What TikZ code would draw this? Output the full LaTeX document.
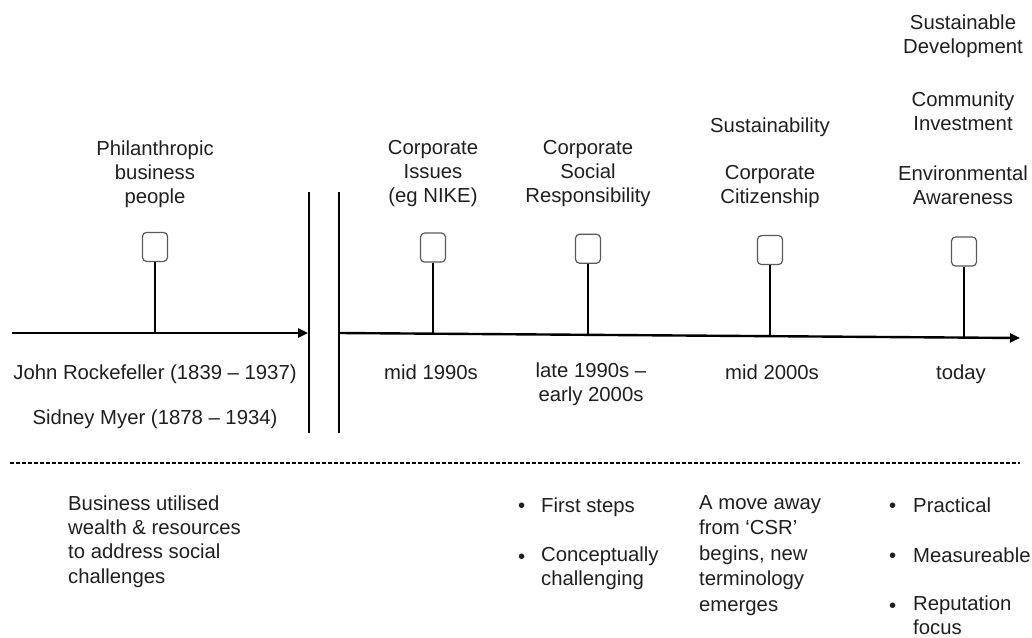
\documentclass[tikz,border=0pt]{standalone}
\usepackage{fontspec}
\setmainfont{Liberation Sans}
\usetikzlibrary{arrows.meta,calc}
\begin{document}
\begin{tikzpicture}[x=1pt,y=-1pt,
  txt/.style={font=\fontsize{20.3}{24}\selectfont, text=black!88, inner sep=0pt,
    anchor=north, align=center, yshift=16.8pt, execute at begin node={\strut}},
  ltxt/.style={txt, anchor=north west, align=left},
  marker/.style={draw=black!65, line width=1.2pt, rounded corners=4pt, fill=white,
    minimum width=25pt, minimum height=29pt, inner sep=0pt, anchor=south},
  stem/.style={line width=2pt},
  axis/.style={line width=2.4pt, -{Triangle[length=10pt,width=9pt]}},
  divider/.style={line width=2pt},
  split/.style={line width=1.1pt, dash pattern=on 4pt off 2pt}
]
\useasboundingbox (0,0) rectangle (1032,637);

% time axes
\coordinate (La) at (12,333);
\coordinate (Lb) at (308,333);
\coordinate (Ra) at (340,333);
\coordinate (Rb) at (1020,338);
\draw[axis] (La) -- (Lb);
\draw[axis] (Ra) -- (Rb);

% break between the two eras
\coordinate (d1a) at (309,192); \coordinate (d1b) at (309,433);
\coordinate (d2a) at (339,192); \coordinate (d2b) at (339,433);
\draw[divider] (d1a) -- (d1b);
\draw[divider] (d2a) -- (d2b);

% milestones
\coordinate (s0) at (155,333);
\coordinate (s1) at ($(Ra)!{93/680}!(Rb)$);
\coordinate (s2) at ($(Ra)!{248/680}!(Rb)$);
\coordinate (s3) at ($(Ra)!{430/680}!(Rb)$);
\coordinate (s4) at ($(Ra)!{624/680}!(Rb)$);
\foreach \i in {0,...,4}{
  \node[marker] (m\i) at ($(s\i)+(0,-71)$) {};
  \draw[stem] (m\i.south) -- (s\i);
}

% labels above the axis
\node[txt] (philan) at (155,157) {Philanthropic\\business\\people};
\node[txt] (issues) at (433,157) {Corporate\\Issues\\(eg NIKE)};
\node[txt] (csr) at (588,157) {Corporate\\Social\\Responsibility};
\node[txt] (sustain) at (770,132) {Sustainability};
\node[txt] (citizen) at (770,182) {Corporate\\Citizenship};
\node[txt] (develop) at (963,31) {Sustainable\\Development};
\node[txt] (invest) at (963,108) {Community\\Investment};
\node[txt] (environ) at (963,182) {Environmental\\Awareness};

% dates below the axis
\node[txt] (rock) at (155,379) {John Rockefeller (1839 – 1937)};
\node[txt] (myer) at (155,424) {Sidney Myer (1878 – 1934)};
\node[txt] (d1990) at (431,379) {mid 1990s};
\node[txt] (d2000) at (591,379) {late 1990s –\\early 2000s};
\node[txt] (dmid) at (772,379) {mid 2000s};
\node[txt] (dtoday) at (961,379) {today};

% separator
\coordinate (sa) at (10,463);
\coordinate (sb) at (1020,463);
\draw[split] (sa) -- (sb);

% notes
\node[ltxt, font=\fontsize{20.3}{24.4}\selectfont] (wealth) at (68,512)
  {Business utilised\\wealth \& resources\\to address social\\challenges};
\node[ltxt] (b1) at (518,512) {•};
\node[ltxt] (first) at (541,512) {First steps};
\node[ltxt] (b2) at (518,563) {•};
\node[ltxt] (concept) at (541,563) {Conceptually\\challenging};
\node[ltxt, font=\fontsize{20.3}{25.5}\selectfont] (moveaway) at (699,512)
  {A move away\\from ‘CSR’\\begins, new\\terminology\\emerges};
\node[ltxt] (b3) at (889,512) {•};
\node[ltxt] (practical) at (913,512) {Practical};
\node[ltxt] (b4) at (889,562) {•};
\node[ltxt] (measure) at (913,562) {Measureable};
\node[ltxt] (b5) at (889,612) {•};
\node[ltxt] (reput) at (913,612) {Reputation\\focus};
\end{tikzpicture}
\end{document}
